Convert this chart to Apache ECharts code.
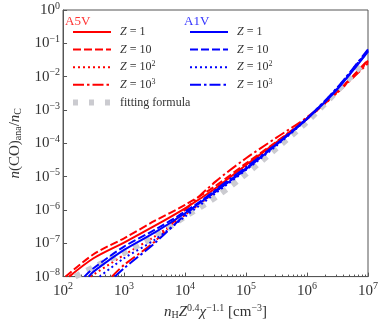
<!DOCTYPE html>
<html>
<head>
<meta charset="utf-8">
<script src="https://cdn.jsdelivr.net/npm/echarts@6/dist/echarts.min.js"></script>
<style>
  html, body { margin: 0; padding: 0; background: #fff; }
  #chart { width: 382px; height: 325px; }
</style>
</head>
<body>
<div id="chart"></div>
<script>
// 数据: [n_H Z^0.4 chi^-1.1, n(CO)_ana / n_C]
// A5V
const a5vZ1 = [[126, 1e-8], [316, 3.55e-8], [1e3, 1.05e-7], [3162, 3.31e-7], [1e4, 1.12e-6], [3.16e4, 4.47e-6], [1e5, 2.24e-5], [3.16e5, 1.07e-4], [1e6, 5.37e-4], [3.16e6, 3.55e-3], [1e7, 3.02e-2]];
const a5vZ10 = [[110, 1e-8], [316, 4.68e-8], [1e3, 1.41e-7], [3162, 4.68e-7], [1e4, 1.41e-6], [3.16e4, 5.25e-6], [1e5, 2.51e-5], [3.16e5, 1.12e-4], [1e6, 5.62e-4], [3.16e6, 3.55e-3], [1e7, 3.16e-2]];
const a5vZ100 = [[282, 1e-8], [1e3, 4.47e-8], [3162, 1.58e-7], [1e4, 7.08e-7], [3.16e4, 3.55e-6], [1e5, 2.0e-5], [3.16e5, 1.0e-4], [1e6, 5.37e-4], [3.16e6, 3.39e-3], [1e7, 2.82e-2]];
const a5vZ1000 = [[631, 1e-8], [1e3, 2.24e-8], [3162, 1.12e-7], [1e4, 1.0e-6], [3.16e4, 7.08e-6], [1e5, 3.55e-5], [3.16e5, 1.48e-4], [1e6, 6.03e-4], [3.16e6, 3.39e-3], [1e7, 2.51e-2]];
// A1V
const a1vZ1 = [[263, 1e-8], [316, 1.41e-8], [1e3, 6.31e-8], [3162, 2.09e-7], [1e4, 7.94e-7], [3.16e4, 3.55e-6], [1e5, 1.66e-5], [3.16e5, 9.12e-5], [1e6, 5.37e-4], [3.16e6, 4.27e-3], [1e7, 5.62e-2]];
const a1vZ10 = [[224, 1e-8], [316, 1.78e-8], [1e3, 7.94e-8], [3162, 2.51e-7], [1e4, 8.91e-7], [3.16e4, 3.8e-6], [1e5, 1.78e-5], [3.16e5, 9.55e-5], [1e6, 5.62e-4], [3.16e6, 4.47e-3], [1e7, 6.03e-2]];
const a1vZ100 = [[398, 1e-8], [1e3, 3.55e-8], [3162, 1.26e-7], [1e4, 6.31e-7], [3.16e4, 3.16e-6], [1e5, 1.58e-5], [3.16e5, 8.51e-5], [1e6, 5.37e-4], [3.16e6, 4.68e-3], [1e7, 6.31e-2]];
const a1vZ1000 = [[708, 1e-8], [1e3, 1.78e-8], [3162, 1.0e-7], [1e4, 7.08e-7], [3.16e4, 3.98e-6], [1e5, 1.91e-5], [3.16e5, 9.55e-5], [1e6, 5.62e-4], [3.16e6, 4.79e-3], [1e7, 6.61e-2]];
// 拟合公式
const fitting = [[158, 1e-8], [316, 1.91e-8], [1e3, 5.25e-8], [3162, 1.58e-7], [1e4, 6.31e-7], [3.16e4, 2.4e-6], [1e5, 1.2e-5], [3.16e5, 7.08e-5], [1e6, 4.47e-4], [3.16e6, 3.8e-3], [8.3e6, 2.51e-2]];

// 图例标签
const zLabels = { '1': '{i|Z} = 1', '10': '{i|Z} = 10', '100': '{i|Z} = 10{s|2}', '1000': '{i|Z} = 10{s|3}' };
// x 轴次刻度
const minorX = [];
for (let e = 2; e < 7; e++) {
    for (let m = 2; m <= 9; m++) minorX.push(m * Math.pow(10, e));
}

const FONT = 'Liberation Serif';
const RED = '#ff0000';
const BLUE = '#0000ff';
const GRAY = '#cbcbd0';
const DASH = [8, 3];
const DOT = [2, 3];
const DASHDOT = [11, 3, 2.5, 3];

function lineSeries(name, data, color, type, z) {
    return {
        name: name,
        type: 'line',
        data: data,
        symbol: 'none',
        smooth: 0.3,
        clip: true,
        z: z || 3,
        lineStyle: { color: color, width: 2, type: type },
        itemStyle: { color: color }
    };
}

const supRich = {
    s: { fontSize: 10, fontFamily: FONT, padding: [0, 0, 8, 0], color: '#333' },
    b: { fontSize: 15, fontFamily: FONT, color: '#333' }
};

function expLabel(v) {
    const e = Math.round(Math.log10(v));
    return '{b|10}{s|' + (e < 0 ? '\u2212' + (-e) : e) + '}';
}

const legendText = {
    fontFamily: FONT, fontSize: 12, color: '#333', lineHeight: 14, padding: [0, 0, 0, 4],
    rich: {
        i: { fontStyle: 'italic', fontFamily: FONT, fontSize: 12 },
        s: { fontSize: 8, fontFamily: FONT, padding: [0, 0, 6, 0] }
    }
};

const chart = echarts.init(document.getElementById('chart'));
chart.setOption({
    animation: false,
    grid: { left: 54, right: 14, top: 10, bottom: 42, show: true, borderColor: '#555', borderWidth: 1 },
    title: [
        { text: 'A5V', left: 60, top: 10, textStyle: { color: '#ff3333', fontSize: 13, fontWeight: 'normal', fontFamily: FONT } },
        { text: 'A1V', left: 179, top: 10, textStyle: { color: '#3333ff', fontSize: 13, fontWeight: 'normal', fontFamily: FONT } }
    ],
    legend: [
        {
            orient: 'vertical', left: 65, top: 20, itemWidth: 38, itemHeight: 14, itemGap: 3.6,
            itemStyle: { opacity: 0 },
            data: ['A5V Z=1', 'A5V Z=10', 'A5V Z=100', 'A5V Z=1000',
                { name: 'fitting formula', lineStyle: { width: 6, type: [5, 11], cap: 'butt' } }],
            formatter: n => n === 'fitting formula' ? n : zLabels[n.split('=')[1]],
            textStyle: legendText
        },
        {
            orient: 'vertical', left: 184, top: 20, itemWidth: 38, itemHeight: 14, itemGap: 3.6,
            itemStyle: { opacity: 0 },
            data: ['A1V Z=1', 'A1V Z=10', 'A1V Z=100', 'A1V Z=1000'],
            formatter: n => zLabels[n.split('=')[1]],
            textStyle: legendText
        }
    ],
    xAxis: [
        {
            type: 'log', logBase: 10, min: 1e2, max: 1e7, interval: 1,
            name: '{i|n}{sub|H}{i|Z}{sup|0.4}{i|\u03c7}{sup|\u22121.1} [cm{sup|\u22123}]',
            nameLocation: 'middle', nameGap: 20,
            nameTextStyle: {
                fontFamily: FONT, fontSize: 15, color: '#333',
                rich: {
                    i: { fontStyle: 'italic', fontFamily: FONT, fontSize: 15, color: '#333' },
                    sub: { fontSize: 10, fontFamily: FONT, padding: [6, 0, 0, 0], color: '#333' },
                    sup: { fontSize: 10, fontFamily: FONT, padding: [0, 0, 8, 0], color: '#333' }
                }
            },
            axisLine: { lineStyle: { color: '#555', width: 1 } },
            axisTick: { inside: true, length: 4, lineStyle: { color: '#555' } },
            axisLabel: { margin: 5, formatter: expLabel, rich: supRich },
            splitLine: { show: false }
        },
        {
            type: 'log', logBase: 10, min: 1e2, max: 1e7, gridIndex: 0, position: 'bottom',
            axisLine: { show: false },
            axisLabel: { show: false },
            axisTick: { inside: true, length: 2, customValues: minorX, lineStyle: { color: '#555' } },
            splitLine: { show: false }
        }
    ],
    yAxis: {
        type: 'log', logBase: 10, min: 1e-8, max: 1, interval: 1,
        name: '{i|n}(CO){sub|ana}/{i|n}{sub|C}',
        nameLocation: 'middle', nameGap: 33, nameRotate: 90,
        nameTextStyle: {
            fontFamily: FONT, fontSize: 15, color: '#333',
            rich: {
                i: { fontStyle: 'italic', fontFamily: FONT, fontSize: 15, color: '#333' },
                sub: { fontSize: 10, fontFamily: FONT, padding: [6, 0, 0, 0], color: '#333' }
            }
        },
        axisLine: { lineStyle: { color: '#555', width: 1 } },
        axisTick: { inside: true, length: 4, lineStyle: { color: '#555' } },
        axisLabel: { margin: 3, formatter: expLabel, rich: supRich },
        splitLine: { show: false }
    },
    series: [
        lineSeries('A5V Z=1', a5vZ1, RED, 'solid'),
        lineSeries('A5V Z=10', a5vZ10, RED, DASH),
        lineSeries('A5V Z=100', a5vZ100, RED, DOT),
        lineSeries('A5V Z=1000', a5vZ1000, RED, DASHDOT),
        {
            name: 'fitting formula', type: 'line', data: fitting, symbol: 'none', smooth: 0.3, clip: true, z: 4,
            lineStyle: { color: GRAY, width: 6, type: [6, 7], cap: 'butt' },
            itemStyle: { color: GRAY }
        },
        lineSeries('A1V Z=1', a1vZ1, BLUE, 'solid', 5),
        lineSeries('A1V Z=10', a1vZ10, BLUE, DASH, 5),
        lineSeries('A1V Z=100', a1vZ100, BLUE, DOT, 5),
        lineSeries('A1V Z=1000', a1vZ1000, BLUE, DASHDOT, 5)
    ]
});
</script>
</body>
</html>
